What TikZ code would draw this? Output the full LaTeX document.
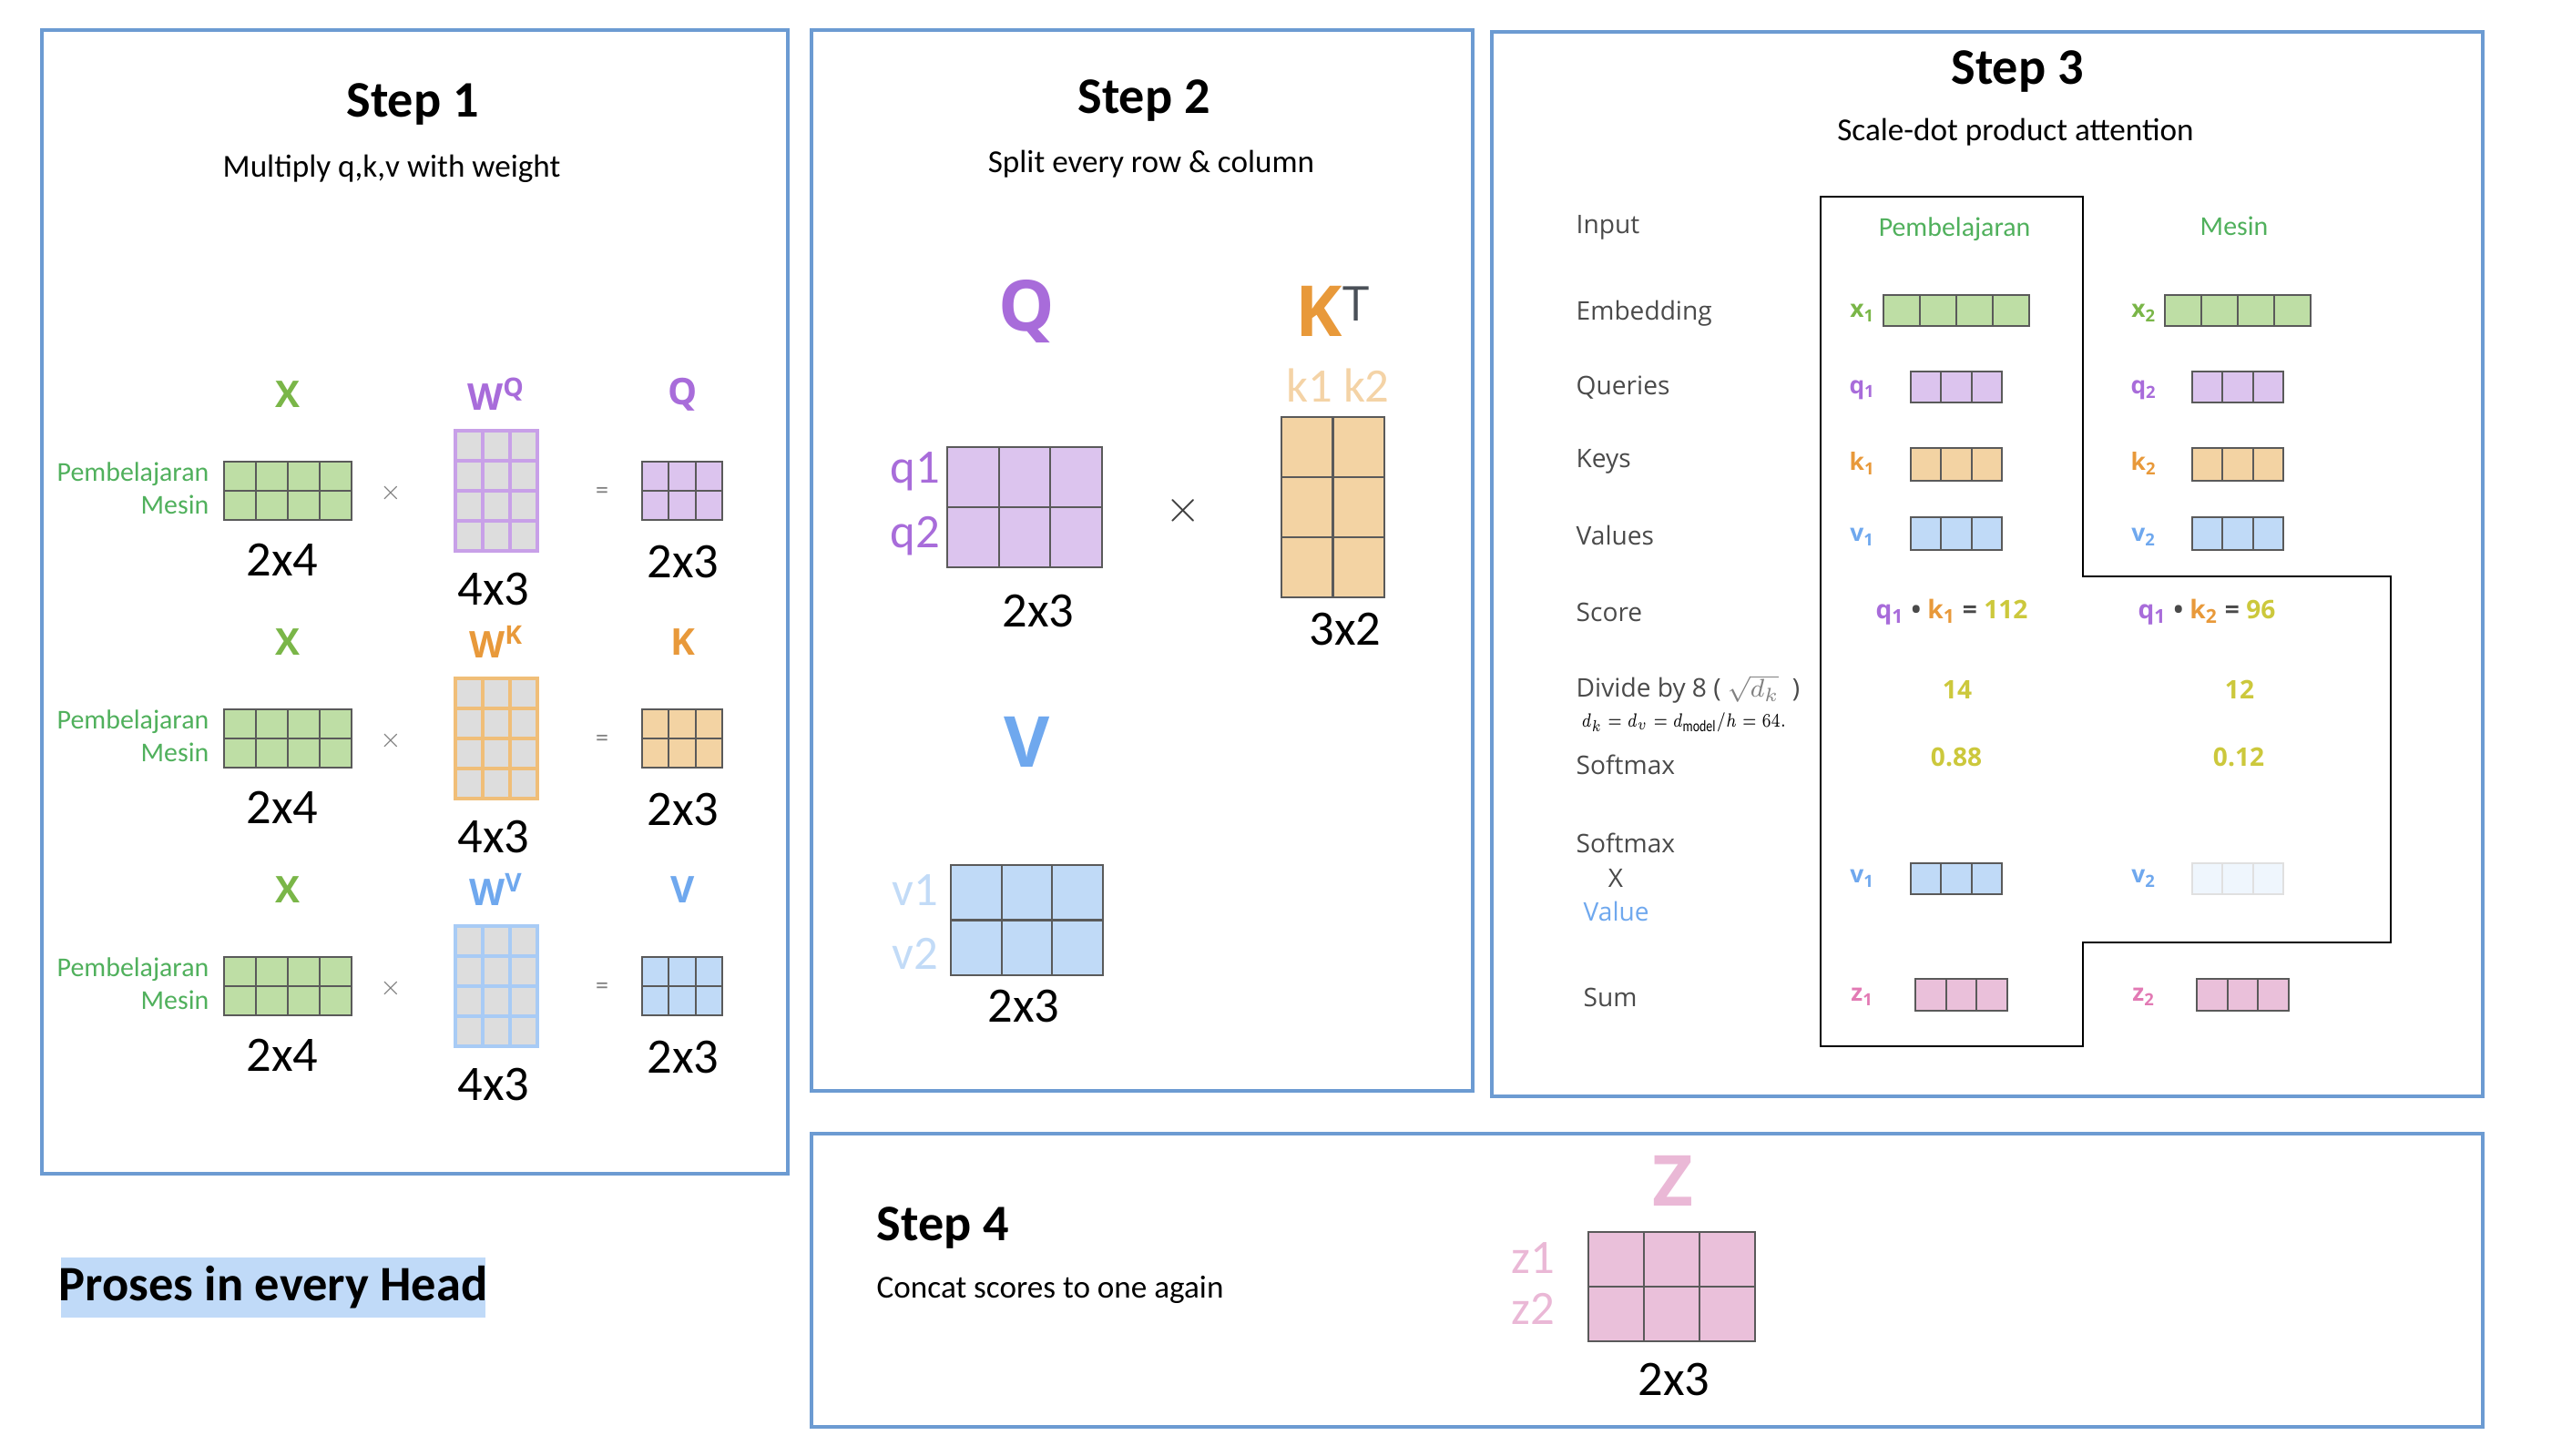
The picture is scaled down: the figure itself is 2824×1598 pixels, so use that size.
\documentclass[tikz,border=0pt]{standalone}
\usepackage{fontspec}
\setmainfont{Carlito}
\newfontfamily\opensans{Open Sans}
\usetikzlibrary{shapes,backgrounds}
\usetikzlibrary{arrows}

\definecolor{panelblue}{RGB}{108,155,210}
\definecolor{cellline}{RGB}{90,90,90}
\definecolor{xgreen}{RGB}{122,182,72}
\definecolor{tgreen}{RGB}{80,176,92}
\definecolor{gfill}{RGB}{190,222,165}
\definecolor{qpurple}{RGB}{168,108,218}
\definecolor{pfill}{RGB}{220,196,238}
\definecolor{pline}{RGB}{200,160,232}
\definecolor{korange}{RGB}{232,153,58}
\definecolor{ofill}{RGB}{243,211,163}
\definecolor{oline}{RGB}{240,190,120}
\definecolor{vblue}{RGB}{111,168,238}
\definecolor{bfill}{RGB}{192,218,247}
\definecolor{bline}{RGB}{168,203,245}
\definecolor{wgrey}{RGB}{221,221,221}
\definecolor{zpink}{RGB}{226,122,180}
\definecolor{zlight}{RGB}{234,184,214}
\definecolor{zfill}{RGB}{234,192,218}
\definecolor{scoreyel}{RGB}{204,200,60}
\definecolor{lblgrey}{RGB}{74,74,74}
\definecolor{lorange}{RGB}{244,211,166}
\definecolor{lblue}{RGB}{194,219,247}
\definecolor{tgrey}{RGB}{74,80,88}
\definecolor{hilite}{RGB}{192,218,248}

\newcommand{\cellgrid}[7]{\foreach \ci in {1,...,#3}{\foreach \cj in {1,...,#4}{\draw[#7] ({#1+(\ci-1)*#5},{#2+(\cj-1)*#6}) rectangle ++(#5,#6);}}}

\begin{document}
\begin{tikzpicture}[x=0.1mm, y=-0.1mm, every node/.style={inner sep=0pt},
	panel/.style={draw=panelblue, line width=1.1pt},
	cell/.style={draw=cellline, line width=0.6pt},
	wcell/.style={fill=wgrey, line width=1.2pt},
	title/.style={font=\fontsize{16}{19}\selectfont\bfseries},
	subtitle/.style={font=\fontsize{10}{12}\selectfont},
	dims/.style={font=\fontsize{15.5}{18}\selectfont},
	mlabel/.style={font=\opensans\bfseries\fontsize{11.5}{14}\selectfont},
	biglabel/.style={font=\opensans\bfseries\fontsize{22}{26}\selectfont},
	rowtag/.style={font=\fontsize{15}{18}\selectfont},
	wordlbl/.style={font=\fontsize{8.5}{10}\selectfont, text=tgreen},
	rowname/.style={font=\opensans\fontsize{8}{10}\selectfont, text=lblgrey, anchor=west},
	vec/.style={font=\opensans\bfseries\fontsize{7.5}{9}\selectfont},
	score/.style={font=\opensans\bfseries\fontsize{8}{10}\selectfont, text=lblgrey},
	opsym/.style={font=\fontsize{8}{9}\selectfont, text=gray}]
	\useasboundingbox (0,0) rectangle (2824,1598);

	\draw[panel] (46,33) rectangle (865,1289);
	\draw[panel] (891,33) rectangle (1617,1198);
	\draw[panel] (1638,35) rectangle (2726,1204);
	\draw[panel] (891,1245) rectangle (2726,1567);

	\node[title] (s1) at (453,114) {Step 1};
	\node[subtitle] (s1sub) at (430,185) {Multiply q,k,v with weight};
	\foreach \sh/\nm/\cl/\fc/\lc in {0/Q/qpurple/pfill/pline, 272/K/korange/ofill/oline, 544/V/vblue/bfill/bline}{
		\node[mlabel, text=xgreen] (x\nm) at (316,433+\sh) {X};
		\node[mlabel, text=\cl] (w\nm) at (545,433+\sh) {W\textsuperscript{\nm}};
		\node[mlabel, text=\cl] (m\nm) at (750,433+\sh) {\nm};
		\node[wordlbl, anchor=east] (p\nm) at (230,521+\sh) {Pembelajaran};
		\node[wordlbl, anchor=east] (n\nm) at (230,554+\sh) {Mesin};
		\cellgrid{246}{507+\sh}{4}{2}{35}{32}{cell, fill=gfill}
		\cellgrid{500}{473+\sh}{3}{4}{30}{33}{wcell, draw=\lc}
		\cellgrid{705}{507+\sh}{3}{2}{29.3}{32}{cell, fill=\fc}
		\node[opsym] (t\nm) at (429,541+\sh) {$\times$};
		\node[opsym] (e\nm) at (661,541+\sh) {=};
		\node[dims] (a\nm) at (310,615+\sh) {2x4};
		\node[dims] (b\nm) at (542,647+\sh) {4x3};
		\node[dims] (c\nm) at (750,617+\sh) {2x3};
	}

	\node[title] (s2) at (1256,110) {Step 2};
	\node[subtitle] (s2sub) at (1264,180) {Split every row \& column};
	\node[biglabel, text=qpurple] (bigq) at (1127,342) {Q};
	\node[biglabel, text=korange] (bigk) at (1463,342) {K\raisebox{5pt}{\opensans\mdseries\fontsize{15}{18}\selectfont\color{tgrey}T}};
	\node[rowtag, text=lorange] (kk) at (1469,423) {k1 k2};
	\cellgrid{1040}{491}{3}{2}{56.7}{66}{cell, fill=pfill}
	\node[rowtag, text=qpurple, anchor=east] (sq1) at (1033,518) {q1};
	\node[rowtag, text=qpurple, anchor=east] (sq2) at (1033,589) {q2};
	\node[font=\fontsize{14}{16}\selectfont, text=darkgray] (s2x) at (1299,561) {$\times$};
	\cellgrid{1407}{458}{2}{3}{56.5}{66}{cell, fill=ofill}
	\node[dims] (q23) at (1140,671) {2x3};
	\node[dims] (k32) at (1477,691) {3x2};
	\node[biglabel, text=vblue] (bigv) at (1128,815) {V};
	\cellgrid{1044}{950}{3}{2}{55.7}{60.5}{cell, fill=bfill}
	\node[rowtag, text=lblue, anchor=east] (sv1) at (1031,978) {v1};
	\node[rowtag, text=lblue, anchor=east] (sv2) at (1031,1047) {v2};
	\node[dims] (v23) at (1124,1105) {2x3};

	\node[title] (s3) at (2215,78) {Step 3};
	\node[subtitle] (s3sub) at (2213,145) {Scale-dot product attention};
	\foreach \yy/\nm/\tx in {250/in/Input, 344/em/Embedding, 426/qu/Queries, 507/ke/Keys, 588/va/Values, 672/sc/Score, 840/so/Softmax, 926/sx/Softmax}
		\node[rowname] (r\nm) at (1730,\yy) {\tx};
	\node[rowname] (rdiv) at (1730,757) {Divide by 8 ( {\color{gray}$\sqrt{d_k}$} \ )};
	\node[anchor=west, font=\fontsize{6}{7}\selectfont] (rfor) at (1736,793) {\scalebox{0.79}[1]{$d_k = d_v = d_{\mathrm{model}}/h = 64.$}};
	\node[font=\opensans\fontsize{8}{10}\selectfont, text=lblgrey] (rx) at (1774,964) {X};
	\node[rowname, text=vblue] (rval) at (1738,1001) {Value};
	\node[rowname] (rsum) at (1738,1095) {Sum};
	\draw[line width=0.6pt] (1999,216) -- (2287,216) -- (2287,633) -- (2625,633) -- (2625,1035) -- (2287,1035) -- (2287,1149) -- (1999,1149) -- cycle;
	\node[wordlbl] (h1) at (2146,252) {Pembelajaran};
	\node[wordlbl] (h2) at (2453,248) {Mesin};
	\foreach \i/\d in {1/0, 2/309}{
		\node[vec, text=xgreen] (x\i) at (2045+\d,344) {x\textsubscript{\i}};
		\cellgrid{2068+\d}{324}{4}{1}{40}{34}{cell, fill=gfill}
		\node[vec, text=qpurple] (q\i) at (2045+\d,428) {q\textsubscript{\i}};
		\cellgrid{2098+\d}{408}{3}{1}{33.4}{34}{cell, fill=pfill}
		\node[vec, text=korange] (k\i) at (2045+\d,509) {k\textsubscript{\i}};
		\cellgrid{2098+\d}{492}{3}{1}{33.4}{36}{cell, fill=ofill}
		\node[vec, text=vblue] (v\i) at (2045+\d,590) {v\textsubscript{\i}};
		\cellgrid{2098+\d}{568}{3}{1}{33.4}{36}{cell, fill=bfill}
		\node[vec, text=vblue] (u\i) at (2045+\d,965) {v\textsubscript{\i}};
		\node[vec, text=zpink] (z\i) at (2045+\d,1095) {z\textsubscript{\i}};
		\cellgrid{2103+\d}{1075}{3}{1}{33.7}{35}{cell, fill=zfill}
	}
	\cellgrid{2098}{948}{3}{1}{33.4}{34}{cell, fill=bfill}
	\cellgrid{2407}{948}{3}{1}{33.4}{34}{draw=black!12, line width=0.6pt, fill=bfill!25}
	\node[score] (sc1) at (2143,672) {{\color{qpurple}q\textsubscript{1}} \textbullet{} {\color{korange}k\textsubscript{1}} = {\color{scoreyel}112}};
	\node[score] (sc2) at (2423,672) {{\color{qpurple}q\textsubscript{1}} \textbullet{} {\color{korange}k\textsubscript{2}} = {\color{scoreyel}96}};
	\node[score, text=scoreyel] (d1) at (2149,757) {14};
	\node[score, text=scoreyel] (d2) at (2459,757) {12};
	\node[score, text=scoreyel] (f1) at (2148,831) {0.88};
	\node[score, text=scoreyel] (f2) at (2458,831) {0.12};

	\node[title, anchor=west] (s4) at (962,1348) {Step 4};
	\node[subtitle, anchor=west] (s4sub) at (962,1416) {Concat scores to one again};
	\node[biglabel, text=zlight] (bigz) at (1837,1297) {Z};
	\cellgrid{1744}{1353}{3}{2}{61}{60}{cell, fill=zfill}
	\node[rowtag, text=zlight, anchor=east] (sz1) at (1708,1382) {z1};
	\node[rowtag, text=zlight, anchor=east] (sz2) at (1708,1437) {z2};
	\node[dims] (z23) at (1838,1515) {2x3};

	\fill[hilite] (67,1381) rectangle (533,1447);
	\node[title, font=\fontsize{15.5}{18}\selectfont\bfseries] (head) at (300,1414) {Proses in every Head};
\end{tikzpicture}
\end{document}
